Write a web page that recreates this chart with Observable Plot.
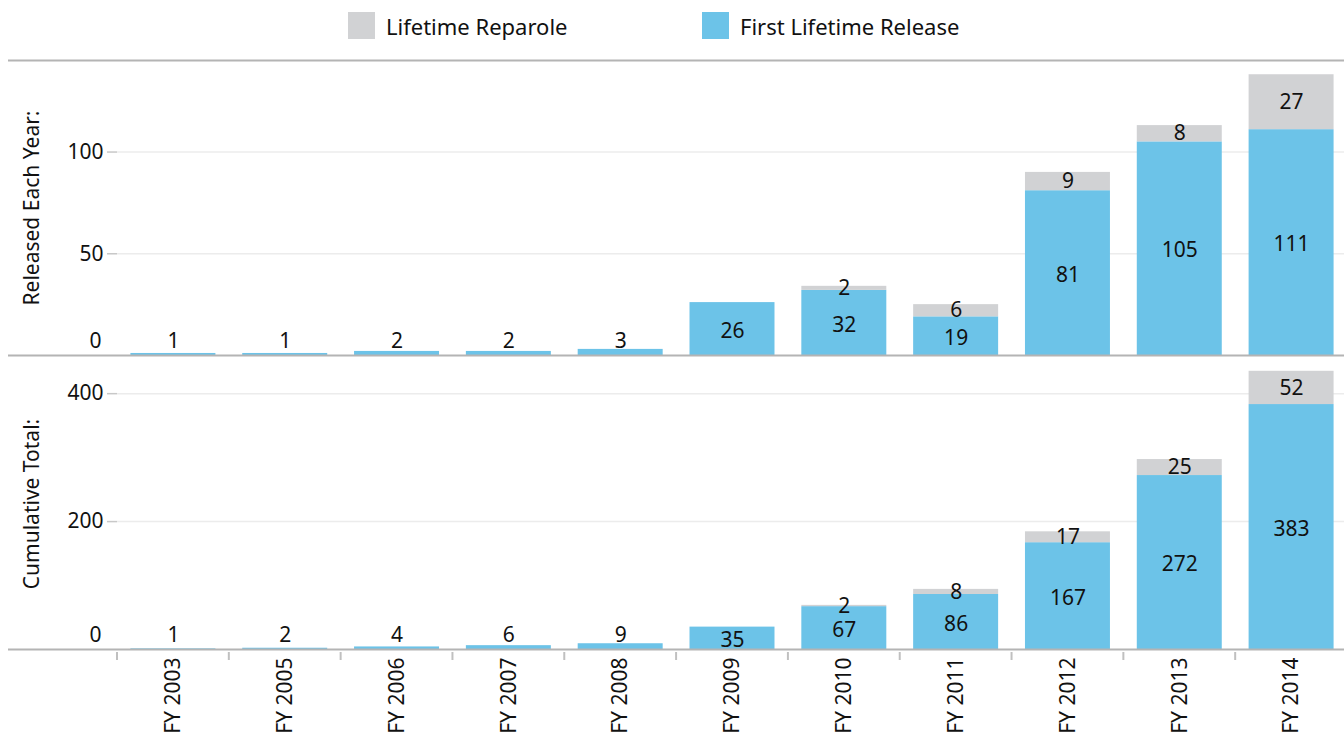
<!DOCTYPE html>
<html>
<head>
<meta charset="utf-8">
<script src="https://cdn.jsdelivr.net/npm/d3@7"></script>
<script src="https://cdn.jsdelivr.net/npm/@observablehq/plot@0.6"></script>
<style>
  html, body { margin: 0; padding: 0; background: #fff; overflow: hidden; }
  body { font-family: "Noto Sans", sans-serif; color: #111; width: 1344px; height: 736px; }
  #legend { position: relative; height: 52px; }
  .sw { position: absolute; top: 12px; width: 27px; height: 27px; }
  .lt { position: absolute; top: 26px; transform: translateY(-50%); font-size: 22px; line-height: 1; white-space: nowrap; }
  svg { display: block; overflow: visible; }
</style>
</head>
<body>
<div id="legend"></div>
<div id="top"></div>
<div id="bottom"></div>
<script>
// ---- data ----
const categories = ["FY 2003","FY 2005","FY 2006","FY 2007","FY 2008","FY 2009","FY 2010","FY 2011","FY 2012","FY 2013","FY 2014"];
const firstYear   = [1, 1, 2, 2, 3, 26, 32, 19, 81, 105, 111];
const reparoleYear = [0, 0, 0, 0, 0, 0, 2, 6, 9, 8, 27];
const firstCum    = [1, 2, 4, 6, 9, 35, 67, 86, 167, 272, 383];
const reparoleCum = [0, 0, 0, 0, 0, 0, 2, 8, 17, 25, 52];
const seriesNames = ["Lifetime Reparole", "First Lifetime Release"];
const topTicks = [50, 100];
const bottomTicks = [200, 400];

const BLUE = "#6cc3e8";
const GRAY = "#d1d2d4";
const colors = [GRAY, BLUE];

// ---- legend ----
const legend = document.getElementById("legend");
const legendX = [348, 702];
seriesNames.forEach((s, i) => {
  const sw = document.createElement("div");
  sw.className = "sw"; sw.style.left = legendX[i] + "px"; sw.style.background = colors[i];
  const t = document.createElement("div");
  t.className = "lt"; t.style.left = (legendX[i] + 38) + "px"; t.textContent = s;
  legend.append(sw, t);
});

function panel({first, rep, yMax, ticks, label, frameH, marginTop, marginBottom, smallLimit, showX}) {
  const rows = categories.map((c, i) => ({cat: c, first: first[i], rep: rep[i]}));
  const plot = Plot.plot({
    width: 1344,
    height: marginTop + frameH + marginBottom,
    marginTop, marginBottom,
    marginLeft: 117, marginRight: -3,
    style: {fontFamily: "Noto Sans, sans-serif", fontSize: "21px", color: "#111", background: "transparent", overflow: "visible"},
    x: {domain: categories, paddingInner: 0.24, paddingOuter: 0.12, round: false, axis: null},
    y: {domain: [0, yMax], axis: null},
    marks: [
      Plot.ruleY(ticks, {stroke: "#ececec", strokeWidth: 1.5}),
      Plot.axisY(ticks, {tickSize: 10, tickPadding: 4, stroke: "#c8c8c8", strokeWidth: 1.5, fill: "#111",
        label, labelAnchor: "center", labelOffset: 93, labelArrow: "none", fontSize: 21}),
      Plot.text([0], {y: d => d, text: d => String(d), frameAnchor: "left", textAnchor: "end", dx: -16, dy: -14, fontSize: 21, fill: "#111"}),
      Plot.barY(rows, {x: "cat", y1: 0, y2: "first", fill: BLUE}),
      Plot.barY(rows.filter(d => d.rep > 0), {x: "cat", y1: "first", y2: d => d.first + d.rep, fill: GRAY}),
      Plot.ruleY([0], {stroke: "#b4b4b4", strokeWidth: 2, insetLeft: -109, insetRight: -10}),
      ...(showX ? [] : [Plot.ruleY([yMax], {stroke: "#b4b4b4", strokeWidth: 2, insetLeft: -109, insetRight: -10})]),
      Plot.text(rows.filter(d => d.first >= smallLimit), {x: "cat", y: d => d.first / 2, dy: 2, text: "first", fontSize: 21, fill: "#111"}),
      Plot.text(rows.filter(d => d.first < smallLimit), {x: "cat", y: 0, dy: -14, text: "first", fontSize: 21, fill: "#111"}),
      Plot.text(rows.filter(d => d.rep > 0), {x: "cat", y: d => d.first + d.rep / 2, text: "rep", fontSize: 21, fill: "#111"}),
      ...(showX ? [Plot.axisX({tickSize: 0, tickPadding: 8, tickRotate: -90, fontSize: 21, fill: "#111", label: null})] : [])
    ]
  });
  if (showX) {
    const xs = plot.scale("x");
    const gap = (xs.step - xs.bandwidth) / 2;
    const bounds = categories.map(c => xs.apply(c) - gap);
    bounds.push(xs.apply(categories[categories.length - 1]) + xs.bandwidth + gap);
    const yb = marginTop + frameH;
    d3.select(plot).append("g").selectAll("line").data(bounds).join("line")
      .attr("x1", d => d).attr("x2", d => d)
      .attr("y1", yb + 3).attr("y2", yb + 11)
      .attr("stroke", "#c0c0c0").attr("stroke-width", 2);
  }
  return plot;
}

document.getElementById("top").append(panel({
  first: firstYear, rep: reparoleYear, yMax: 145, ticks: topTicks,
  label: "Released Each Year:", frameH: 295, marginTop: 8, marginBottom: 3, smallLimit: 10, showX: false
}));
document.getElementById("bottom").append(panel({
  first: firstCum, rep: reparoleCum, yMax: 455, ticks: bottomTicks,
  label: "Cumulative Total:", frameH: 291, marginTop: 0, marginBottom: 87, smallLimit: 30, showX: true
}));
</script>
</body>
</html>
